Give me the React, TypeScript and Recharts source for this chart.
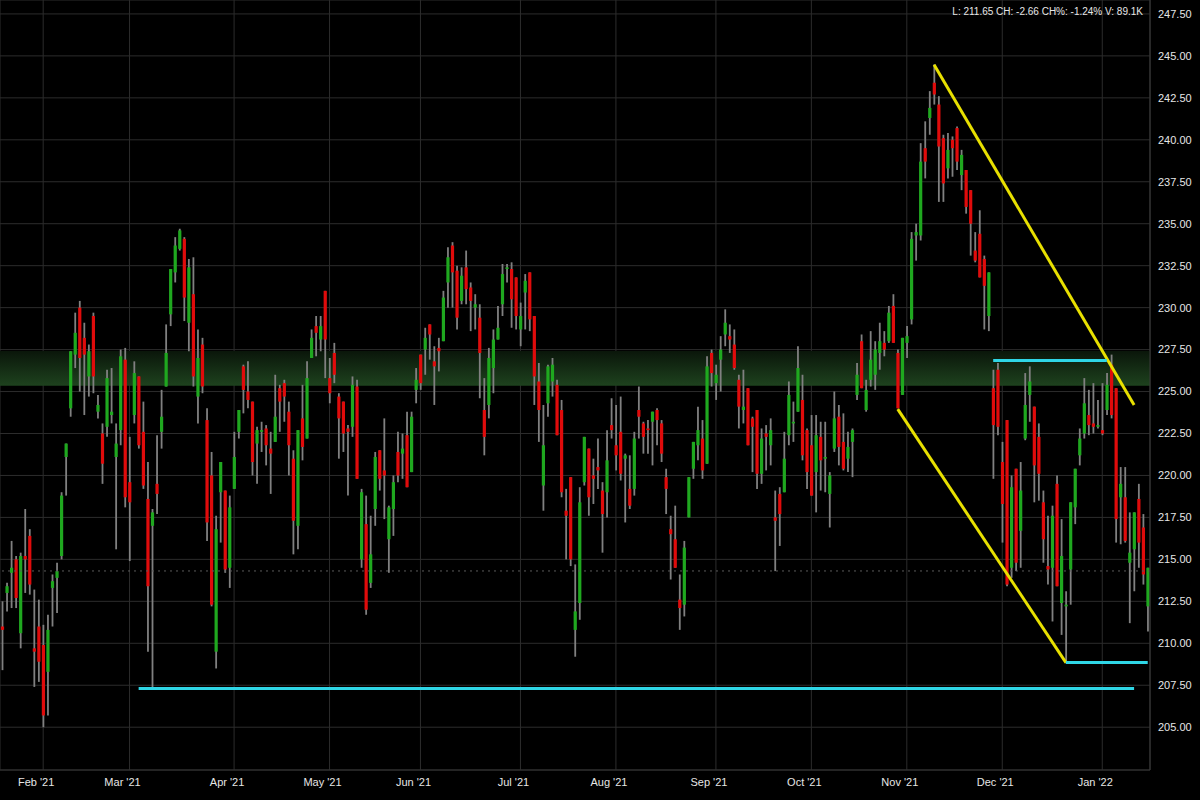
import { Bar, CartesianGrid, ComposedChart, ReferenceArea, ReferenceLine, XAxis, YAxis } from "recharts";

// each candle: [open, high, low, close]
type Ohlc = [number, number, number, number];

const jan21: Ohlc[] = [
  [211.0, 212.5, 208.4, 210.8], [213.0, 213.6, 211.9, 213.4], [214.2, 216.1, 212.1, 214.5],
  [215.0, 215.2, 212.1, 212.7], [210.6, 215.4, 209.7, 215.2], [215.2, 218.0, 213.0, 215.0],
  [216.4, 216.8, 212.9, 213.5], [209.7, 213.2, 207.4, 209.5], [211.0, 212.6, 207.7, 208.9],
];
const feb21: Ohlc[] = [
  [209.9, 211.1, 205.0, 205.7], [208.3, 211.7, 205.7, 210.8], [213.3, 214.1, 211.0, 213.7],
  [213.9, 214.8, 211.8, 214.3], [215.2, 219.0, 215.0, 218.8], [221.1, 221.9, 218.8, 221.9],
  [224.0, 227.4, 223.5, 227.4], [227.2, 229.7, 226.4, 228.5], [230.0, 230.4, 225.0, 227.0],
  [228.2, 229.1, 223.6, 227.2], [225.9, 227.8, 224.7, 227.4], [229.5, 229.7, 224.9, 225.9],
  [223.8, 224.8, 223.4, 224.2], [222.5, 223.1, 219.5, 220.7], [222.9, 226.3, 222.3, 225.8],
  [223.6, 226.4, 223.1, 223.8], [221.1, 223.1, 215.6, 221.9], [222.7, 227.5, 221.8, 227.1],
  [226.9, 227.6, 218.1, 218.7],
];
const mar21: Ohlc[] = [
  [219.6, 222.3, 214.9, 218.4], [223.6, 226.8, 223.1, 226.1], [225.9, 225.9, 221.6, 221.8],
  [222.6, 224.4, 219.2, 219.4], [218.6, 220.8, 209.5, 213.4], [217.0, 218.0, 207.3, 217.8],
  [219.5, 222.4, 217.7, 218.9], [222.6, 225.1, 221.6, 223.5], [225.3, 229.0, 225.3, 227.3],
  [229.6, 232.3, 228.9, 232.3], [232.1, 234.2, 231.5, 233.7], [233.5, 234.7, 233.4, 234.6],
  [234.1, 234.2, 229.2, 230.6], [229.1, 232.9, 227.4, 232.4], [230.8, 233.0, 225.3, 225.9],
  [224.7, 228.7, 223.1, 227.0], [227.8, 228.2, 224.9, 225.3], [223.3, 224.0, 216.1, 217.2],
  [220.0, 221.4, 212.2, 212.3], [209.5, 217.6, 208.5, 216.8], [219.0, 220.8, 216.0, 220.8],
  [219.1, 219.1, 214.2, 214.4], [214.5, 218.8, 213.3, 218.1],
];
const apr21: Ohlc[] = [
  [219.2, 222.6, 219.2, 221.1], [222.6, 223.9, 222.2, 223.9], [226.5, 226.6, 223.7, 225.1],
  [225.0, 226.8, 224.0, 224.5], [224.4, 224.4, 220.0, 220.8], [221.9, 222.9, 219.5, 222.7],
  [222.6, 223.2, 221.4, 222.7], [222.8, 223.0, 220.6, 221.8], [221.6, 222.6, 218.9, 221.3],
  [222.0, 226.0, 222.0, 223.5], [225.2, 225.4, 222.6, 224.4], [225.5, 225.7, 223.2, 224.7],
  [223.8, 224.4, 220.0, 221.8], [221.0, 221.5, 215.3, 217.3], [217.0, 222.7, 215.6, 222.7],
  [223.4, 225.4, 220.9, 221.7], [222.2, 226.8, 222.2, 225.8], [227.0, 228.7, 227.0, 228.2],
  [228.9, 229.5, 227.1, 228.5], [228.1, 229.5, 227.4, 228.9], [231.0, 231.0, 225.8, 228.1],
];
const may21: Ohlc[] = [
  [225.8, 227.0, 224.3, 224.9], [227.3, 227.9, 225.5, 226.0], [224.7, 224.9, 221.0, 223.4],
  [224.4, 224.4, 221.4, 222.5], [222.8, 223.0, 218.8, 222.6], [222.9, 225.9, 222.3, 225.4],
  [225.3, 225.7, 219.8, 219.8], [215.0, 219.2, 214.5, 219.0], [217.1, 218.8, 211.7, 212.0],
  [213.6, 217.6, 213.3, 215.3], [218.0, 221.4, 217.0, 221.1], [221.5, 221.5, 219.1, 219.8],
  [220.3, 223.4, 217.4, 220.0], [216.2, 218.2, 214.2, 218.1], [218.0, 220.0, 216.4, 219.6],
  [221.4, 222.6, 219.6, 220.0], [221.3, 222.5, 219.8, 221.6], [222.4, 223.8, 219.3, 219.3],
  [220.2, 223.8, 220.2, 223.5], [225.1, 226.4, 224.3, 225.7],
];
const jun21: Ohlc[] = [
  [227.2, 227.2, 225.1, 225.5], [227.5, 228.8, 226.0, 228.2], [229.0, 229.0, 226.9, 228.4],
  [226.8, 227.7, 224.2, 226.5], [227.6, 228.2, 226.2, 227.4], [228.0, 231.0, 228.0, 230.6],
  [231.5, 233.6, 230.0, 233.0], [233.7, 233.9, 230.0, 232.1], [232.2, 232.5, 228.7, 229.4],
  [230.4, 232.4, 230.2, 231.9], [232.4, 233.4, 230.2, 231.1], [231.2, 231.5, 228.6, 230.4],
  [230.0, 230.8, 228.7, 230.2], [229.4, 230.2, 224.6, 227.3], [223.9, 225.8, 221.2, 222.3],
  [224.2, 227.6, 223.4, 227.0], [226.4, 228.7, 224.9, 228.1], [228.1, 230.1, 228.1, 228.8],
  [230.2, 232.6, 229.5, 232.0], [232.3, 232.6, 231.5, 232.4], [232.3, 232.7, 228.8, 230.5],
  [231.8, 231.8, 228.7, 229.5],
];
const jul21: Ohlc[] = [
  [228.7, 230.3, 227.7, 229.5], [230.9, 232.0, 228.7, 231.6], [232.1, 232.1, 228.6, 229.3],
  [229.5, 229.5, 224.2, 225.9], [225.6, 226.7, 222.0, 223.9], [219.4, 224.2, 217.9, 221.8],
  [224.3, 226.6, 223.5, 226.5], [225.6, 227.0, 224.7, 226.6], [225.4, 225.7, 222.4, 222.4],
  [223.9, 224.5, 218.7, 219.0], [217.9, 219.2, 215.0, 217.6], [219.9, 219.9, 214.6, 215.0],
  [210.8, 214.7, 209.2, 211.9], [212.4, 219.3, 211.4, 218.4], [219.6, 222.3, 219.4, 222.3],
  [221.6, 221.6, 217.6, 218.7], [220.0, 221.0, 218.3, 219.8], [220.5, 222.2, 219.2, 220.3],
  [219.1, 219.6, 215.4, 217.7], [219.0, 222.7, 217.5, 220.9], [223.0, 224.6, 222.2, 222.7],
];
const aug21: Ohlc[] = [
  [221.8, 224.2, 220.3, 221.2], [222.6, 224.7, 219.7, 220.1], [221.0, 221.3, 217.2, 221.2],
  [219.2, 221.2, 218.0, 218.2], [219.2, 222.6, 218.8, 222.2], [223.9, 225.3, 222.2, 223.5],
  [223.1, 223.2, 221.3, 222.3], [222.8, 223.3, 221.3, 222.7], [223.2, 223.8, 220.6, 223.8],
  [223.9, 224.0, 221.8, 223.3], [223.1, 223.3, 220.8, 221.3], [219.9, 220.4, 217.7, 219.2],
  [216.8, 217.6, 213.8, 216.5], [216.2, 218.2, 214.5, 214.5], [212.6, 214.1, 210.8, 212.1],
  [212.3, 216.1, 211.6, 215.7], [217.5, 219.9, 217.5, 219.9], [220.4, 222.0, 219.8, 222.0],
  [221.8, 224.1, 220.9, 222.7], [222.2, 223.3, 219.8, 220.3], [220.7, 227.1, 220.7, 226.5],
  [227.3, 227.5, 225.3, 226.1],
];
const sep21: Ohlc[] = [
  [225.5, 226.6, 224.5, 226.0], [226.9, 228.3, 225.0, 227.5], [228.4, 229.9, 227.7, 229.1],
  [228.3, 229.0, 227.3, 228.1], [227.8, 228.7, 226.3, 226.4], [225.7, 226.0, 222.8, 224.1],
  [223.9, 226.3, 223.1, 224.1], [225.2, 225.2, 221.8, 221.8], [223.4, 223.5, 220.2, 222.9],
  [223.9, 223.9, 219.2, 220.1], [220.1, 222.8, 219.5, 222.2], [222.5, 223.0, 220.3, 222.3],
  [221.8, 223.4, 220.6, 222.7], [217.5, 219.1, 214.3, 217.3], [218.9, 219.3, 215.8, 217.7],
  [219.0, 222.6, 219.0, 221.0], [222.4, 225.6, 221.8, 224.8], [223.1, 224.4, 222.0, 223.2],
  [223.8, 227.7, 223.8, 226.4], [224.5, 226.0, 220.9, 221.2], [222.7, 222.8, 219.2, 220.2],
];
const oct21: Ohlc[] = [
  [221.8, 223.6, 218.8, 218.8], [220.2, 223.6, 217.8, 222.4], [222.3, 223.2, 219.1, 220.9],
  [221.0, 223.2, 219.0, 221.1], [218.9, 220.2, 216.9, 220.0], [221.6, 225.0, 221.4, 223.4],
  [223.5, 224.2, 220.6, 221.7], [222.0, 223.7, 220.3, 220.4], [221.0, 222.6, 220.2, 221.7],
  [222.0, 222.8, 219.9, 222.7], [224.8, 226.7, 224.5, 226.0], [228.0, 228.4, 225.2, 225.2],
  [223.9, 225.7, 223.8, 225.1], [225.7, 228.6, 225.3, 226.9], [226.0, 228.0, 225.1, 227.5],
  [227.3, 229.1, 226.3, 228.0], [227.9, 228.6, 227.1, 227.5], [228.0, 230.1, 227.9, 229.7],
  [230.1, 230.8, 227.9, 227.9], [227.3, 227.5, 224.0, 224.0], [224.8, 228.2, 224.8, 228.2],
];
const nov21: Ohlc[] = [
  [227.9, 228.9, 227.0, 228.3], [229.3, 234.5, 229.0, 234.1], [234.3, 235.0, 232.8, 234.5],
  [234.3, 239.8, 234.0, 238.7], [239.5, 241.1, 237.7, 238.7], [241.3, 242.9, 240.3, 241.9],
  [243.4, 244.5, 242.1, 242.7], [242.1, 242.6, 236.3, 239.6], [240.1, 240.3, 236.3, 237.4],
  [238.3, 240.4, 237.7, 239.4], [240.0, 240.2, 237.8, 239.5], [240.7, 240.8, 238.2, 238.7],
  [237.9, 239.4, 237.0, 239.1], [238.2, 238.2, 235.6, 236.0], [237.0, 237.0, 233.1, 235.0],
  [233.4, 234.5, 232.7, 232.8], [234.4, 235.8, 231.8, 231.8], [232.9, 233.1, 228.7, 231.3],
  [229.5, 232.1, 228.6, 232.1], [225.2, 226.3, 219.8, 223.0], [226.3, 226.7, 222.4, 222.9],
];
const dec21: Ohlc[] = [
  [220.8, 222.0, 216.0, 218.3], [223.3, 223.3, 213.4, 213.5], [214.5, 220.0, 213.9, 219.3],
  [220.4, 220.4, 214.3, 214.8], [216.7, 220.8, 214.5, 219.1], [222.2, 226.1, 222.1, 224.2],
  [224.8, 226.5, 223.2, 225.6], [224.1, 224.1, 218.4, 220.6], [222.3, 223.1, 218.5, 220.1],
  [218.4, 219.1, 214.8, 216.2], [214.6, 217.6, 213.5, 214.4], [214.5, 218.2, 211.3, 217.6],
  [219.5, 220.0, 213.4, 213.4], [212.4, 217.4, 210.5, 215.2], [212.2, 213.1, 208.8, 212.3],
  [214.4, 218.4, 212.3, 218.4], [218.1, 220.4, 217.1, 220.4], [221.2, 222.8, 220.6, 222.2],
  [222.5, 225.8, 222.2, 224.3], [223.6, 225.1, 222.4, 223.0], [223.1, 225.5, 222.5, 222.9],
  [222.9, 224.5, 222.8, 223.0],
];
const jan22: Ohlc[] = [
  [222.7, 225.5, 222.4, 222.5], [223.9, 226.1, 223.6, 225.4], [226.6, 227.2, 223.4, 223.6],
  [225.2, 225.2, 216.0, 217.4], [218.7, 220.5, 215.9, 219.5], [218.7, 220.5, 216.0, 216.1],
  [214.8, 217.8, 211.2, 215.4], [215.6, 217.8, 213.1, 217.8], [218.6, 219.5, 214.5, 216.0],
  [216.9, 217.7, 213.5, 214.1], [212.2, 214.5, 210.7, 214.5],
];

const months: Array<{ label: string | null; candles: Ohlc[] }> = [
  { label: null, candles: jan21 },
  { label: "Feb '21", candles: feb21 },
  { label: "Mar '21", candles: mar21 },
  { label: "Apr '21", candles: apr21 },
  { label: "May '21", candles: may21 },
  { label: "Jun '21", candles: jun21 },
  { label: "Jul '21", candles: jul21 },
  { label: "Aug '21", candles: aug21 },
  { label: "Sep '21", candles: sep21 },
  { label: "Oct '21", candles: oct21 },
  { label: "Nov '21", candles: nov21 },
  { label: "Dec '21", candles: dec21 },
  { label: "Jan '22", candles: jan22 },
];

const yTicks = [205, 207.5, 210, 212.5, 215, 217.5, 220, 222.5, 225, 227.5, 230, 232.5, 235, 237.5, 240, 242.5, 245, 247.5];
const prevClose = 214.31;
const zone = { from: 225.34, to: 227.42 };

// drawn lines: candle index + price
const upperTrend = [{ x: 205, y: 244.47 }, { x: 249, y: 224.2 }];
const lowerTrend = [{ x: 197, y: 223.95 }, { x: 234, y: 208.85 }];
const supportLong = [{ x: 30, y: 207.3 }, { x: 249, y: 207.3 }];
const resistShort = [{ x: 218, y: 226.85 }, { x: 243, y: 226.85 }];
const supportShort = [{ x: 234, y: 208.85 }, { x: 252, y: 208.85 }];

const header = "L: 211.65 CH: -2.66 CH%: -1.24% V: 89.1K";

const UP = "#1fa81f";
const DOWN = "#e00b0b";
const WICK = "#808080";
const YELLOW = "#e8e000";
const CYAN = "#2fd6e6";

const rows: any[] = [];
const monthTicks: number[] = [];
const tickLabels: Record<number, string> = {};
months.forEach((m) => {
  if (m.label) {
    monthTicks.push(rows.length);
    tickLabels[rows.length] = m.label;
  }
  m.candles.forEach(([open, high, low, close]) => {
    rows.push({ i: rows.length, open, high, low, close, range: [low, high] });
  });
});

function Candle(props: any) {
  const { x, y, width, height, payload } = props;
  if (!payload || height == null) return null;
  const { open, close, high, low } = payload;
  const cx = x + width / 2;
  const k = height / (high - low || 1);
  const top = y + (high - Math.max(open, close)) * k;
  const bodyH = Math.max(Math.abs(open - close) * k, 1.5);
  return (
    <g>
      <line x1={cx} x2={cx} y1={y} y2={y + height} stroke={WICK} strokeWidth={1.8} />
      <rect x={cx - 1.6} y={top} width={3.2} height={bodyH} fill={close >= open ? UP : DOWN} />
    </g>
  );
}

const tickStyle = { fill: "#e6e6e6", fontSize: 11, fontFamily: "Liberation Sans, Arial, sans-serif" };

export default function App() {
  return (
    <div style={{ position: "relative", width: 1200, height: 800, background: "#000" }}>
      <style>{"body{margin:0;background:#000}"}</style>
      <ComposedChart width={1200} height={800} data={rows} margin={{ top: 0, right: 0, bottom: 0, left: 0 }} barCategoryGap={0}>
        <defs>
          <linearGradient id="zoneFill" x1="0" y1="0" x2="0" y2="1">
            <stop offset="0%" stopColor="#0a160a" />
            <stop offset="100%" stopColor="#1e421e" />
          </linearGradient>
        </defs>
        <CartesianGrid stroke="#2c2c2c" strokeWidth={1} />
        <XAxis
          dataKey="i"
          ticks={monthTicks}
          interval={0}
          tickFormatter={(v) => tickLabels[v] ?? ""}
          tick={{ ...tickStyle, dx: -7 }}
          tickLine={false}
          axisLine={{ stroke: "#333" }}
          height={30}
        />
        <YAxis
          orientation="right"
          width={50}
          domain={[202.45, 248.33]}
          allowDataOverflow
          ticks={yTicks}
          interval={0}
          tickFormatter={(v) => v.toFixed(2)}
          tick={tickStyle}
          tickLine={false}
          axisLine={{ stroke: "#3a3a3a" }}
        />
        <ReferenceArea y1={zone.from} y2={zone.to} fill="url(#zoneFill)" fillOpacity={1} stroke="none" />
        <ReferenceLine y={prevClose} stroke="#5a5a5a" strokeDasharray="2 4" />
        <Bar dataKey="range" shape={<Candle />} isAnimationActive={false} />
        {[upperTrend, lowerTrend].map((seg, k) => (
          <ReferenceLine key={"t" + k} segment={seg} stroke={YELLOW} strokeWidth={3} ifOverflow="visible" />
        ))}
        {[supportLong, resistShort, supportShort].map((seg, k) => (
          <ReferenceLine key={"s" + k} segment={seg} stroke={CYAN} strokeWidth={3} ifOverflow="visible" />
        ))}
      </ComposedChart>
      <div
        style={{
          position: "absolute",
          top: 6,
          right: 57,
          color: "#e6e6e6",
          fontSize: 10,
          lineHeight: "12px",
          fontFamily: "Liberation Sans, Arial, sans-serif",
          whiteSpace: "nowrap",
        }}
      >
        {header}
      </div>
    </div>
  );
}
